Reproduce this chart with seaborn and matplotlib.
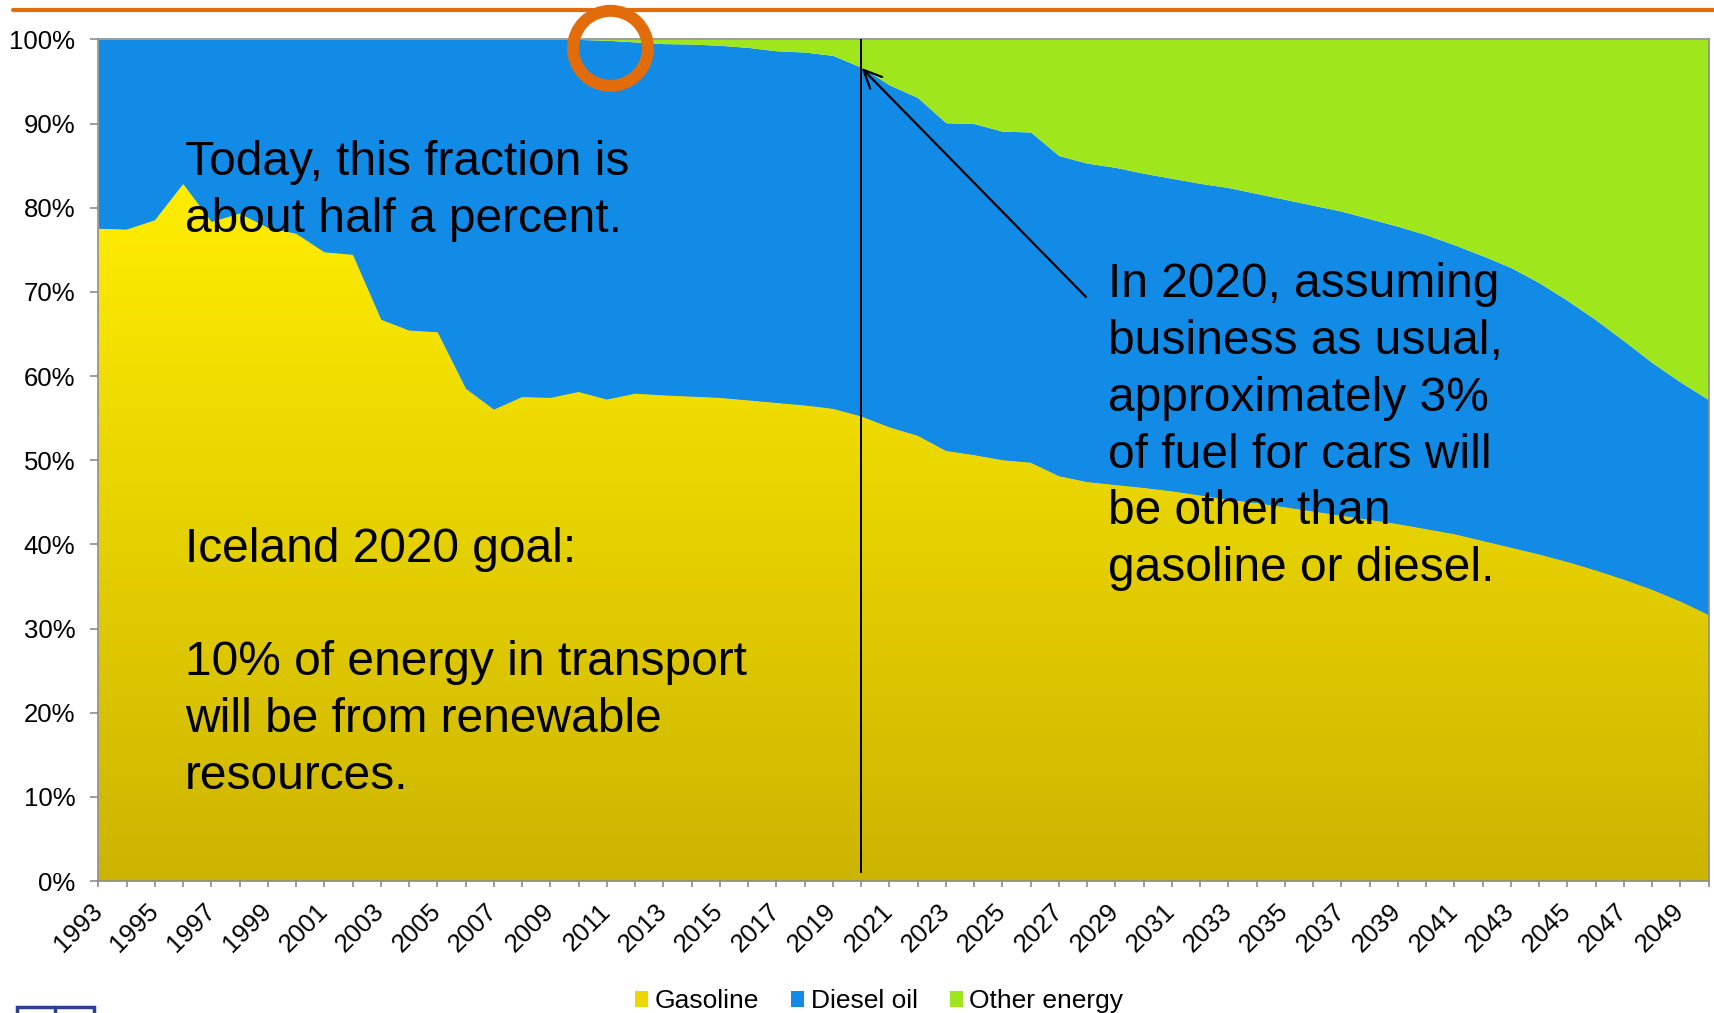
import numpy as np
import matplotlib
matplotlib.use('Agg')
import matplotlib.pyplot as plt
import seaborn as sns
from matplotlib.colors import LinearSegmentedColormap
from matplotlib.patches import Patch, Ellipse, Rectangle
from matplotlib.lines import Line2D

years = list(range(1993, 2051))

gasoline = [77.5, 77.4, 78.5, 82.8, 78.3, 79.3, 77.6, 76.9, 74.7, 74.4,
            66.7, 65.4, 65.2, 58.5, 56.0, 57.5, 57.4, 58.1, 57.2, 57.9,
            57.7, 57.55, 57.4, 57.1, 56.8, 56.5, 56.1, 55.2, 53.9, 52.9,
            51.1, 50.6, 50.0, 49.7, 48.1, 47.4, 47.05, 46.7, 46.3, 45.8,
            45.3, 44.9, 44.4, 43.9, 43.4, 42.9, 42.4, 41.8, 41.2, 40.4,
            39.6, 38.8, 37.9, 36.9, 35.8, 34.6, 33.2, 31.6]

diesel = [22.5, 22.6, 21.5, 17.2, 21.7, 20.7, 22.4, 23.1, 25.3, 25.6,
          33.3, 34.6, 34.8, 41.5, 44.0, 42.5, 42.6, 41.9, 42.7, 41.8,
          41.8, 41.9, 41.9, 41.95, 41.85, 42.0, 42.0, 41.5, 40.7, 40.2,
          39.0, 39.4, 39.1, 39.3, 38.1, 37.9, 37.75, 37.4, 37.2, 37.1,
          37.1, 36.8, 36.6, 36.4, 36.2, 35.8, 35.4, 35.0, 34.4, 33.9,
          33.3, 32.3, 31.1, 29.8, 28.4, 27.0, 26.1, 25.6]

other = [0.0, 0.0, 0.0, 0.0, 0.0, 0.0, 0.0, 0.0, 0.0, 0.0,
         0.0, 0.0, 0.0, 0.0, 0.0, 0.0, 0.0, 0.0, 0.1, 0.3,
         0.5, 0.55, 0.7, 0.95, 1.35, 1.5, 1.9, 3.3, 5.4, 6.9,
         9.9, 10.0, 10.9, 11.0, 13.8, 14.7, 15.2, 15.9, 16.5, 17.1,
         17.6, 18.3, 19.0, 19.7, 20.4, 21.3, 22.2, 23.2, 24.4, 25.7,
         27.1, 28.9, 31.0, 33.3, 35.8, 38.4, 40.7, 42.8]

series_names = ['Gasoline', 'Diesel oil', 'Other energy']
colors = ['#EBD800', '#118BE6', '#A0E61C']

sns.set_theme(style='white')
plt.rcParams['font.family'] = ['Liberation Sans', 'DejaVu Sans']
plt.rcParams['text.color'] = 'black'

fig = plt.figure(figsize=(17.14, 10.13), dpi=100)
ax = fig.add_axes([0.0574, 0.1303, 0.9394, 0.8308])

x = np.arange(len(years))
polys = ax.stackplot(x, gasoline, diesel, other, colors=colors, linewidth=0)

# gradient fill for gasoline
cmap = LinearSegmentedColormap.from_list('gold', ['#CDB400', '#FFEE00'])
grad = np.linspace(0, 1, 256).reshape(-1, 1)
img = ax.imshow(grad, cmap=cmap, extent=(0, len(years) - 1, 0, 83),
                origin='lower', aspect='auto', zorder=2)
img.set_clip_path(polys[0].get_paths()[0], ax.transData)

ax.set_xlim(0, len(years) - 1)
ax.set_ylim(0, 100)

ax.set_yticks(range(0, 101, 10))
ax.set_yticklabels([f'{v}%' for v in range(0, 101, 10)], fontsize=18.5)
ax.set_xticks(x)
ax.set_xticklabels([str(y) if (y - 1993) % 2 == 0 else '' for y in years],
                   fontsize=18.5, rotation=45, ha='right', va='center',
                   rotation_mode='anchor')
ax.tick_params(axis='both', which='both', direction='out', color='#8C8C8C',
               width=1.2, bottom=True, left=True, labelcolor='black')
ax.tick_params(axis='y', length=5.5, pad=11)
ax.tick_params(axis='x', length=4.3, pad=15)
for s in ax.spines.values():
    s.set_color('#8C8C8C')
    s.set_linewidth(1.2)
    s.set_zorder(5)
ax.grid(False)

# 2020 marker line and arrow
ax.vlines(27, 1, 100, color='black', lw=1.4, zorder=6)
ax.annotate('', xy=(27.02, 96.6), xytext=(34.96, 69.4),
            arrowprops=dict(arrowstyle='->,head_length=0.65,head_width=0.3',
                            color='black', lw=1.6, shrinkA=0, shrinkB=0,
                            mutation_scale=20), zorder=6)

txt = dict(fontsize=34.5, va='baseline', ha='left', zorder=7, color='black',
           linespacing=1.34)
ax.text(3.07, 77.1, 'Today, this fraction is\nabout half a percent.', **txt)
ax.text(3.07, 10.9, 'Iceland 2020 goal:\n\n10% of energy in transport\n'
        'will be from renewable\nresources.', **txt)
ax.text(35.73, 35.6, 'In 2020, assuming\nbusiness as usual,\napproximately 3%\n'
        'of fuel for cars will\nbe other than\ngasoline or diesel.', **txt)

# decorations
fig.add_artist(Line2D([13 / 1714, 1], [0.9903, 0.9903], transform=fig.transFigure,
                      color='#E36C0A', lw=3))
fig.add_artist(Ellipse((610.5 / 1714, 1 - 48.3 / 1013), width=75 / 1714,
                       height=75 / 1013, transform=fig.transFigure, fill=False,
                       edgecolor='#E36C0A', lw=8.6, zorder=10))
fig.add_artist(Rectangle((17 / 1714, -0.02), 77 / 1714, 0.0262,
                         transform=fig.transFigure, fill=False,
                         edgecolor='#2E3F8F', lw=2.5))
fig.add_artist(Line2D([55 / 1714, 55 / 1714], [-0.02, 0.0062],
                      transform=fig.transFigure, color='#2E3F8F', lw=2.5))

handles = [Patch(facecolor=c, edgecolor='none') for c in colors]
fig.legend(handles, series_names, loc='center', bbox_to_anchor=(0.513, 0.0115),
           ncol=3, frameon=False, fontsize=19, handlelength=0.5,
           handleheight=0.5, handletextpad=0.25, columnspacing=1.2)

fig.savefig('out.png', dpi=100)
